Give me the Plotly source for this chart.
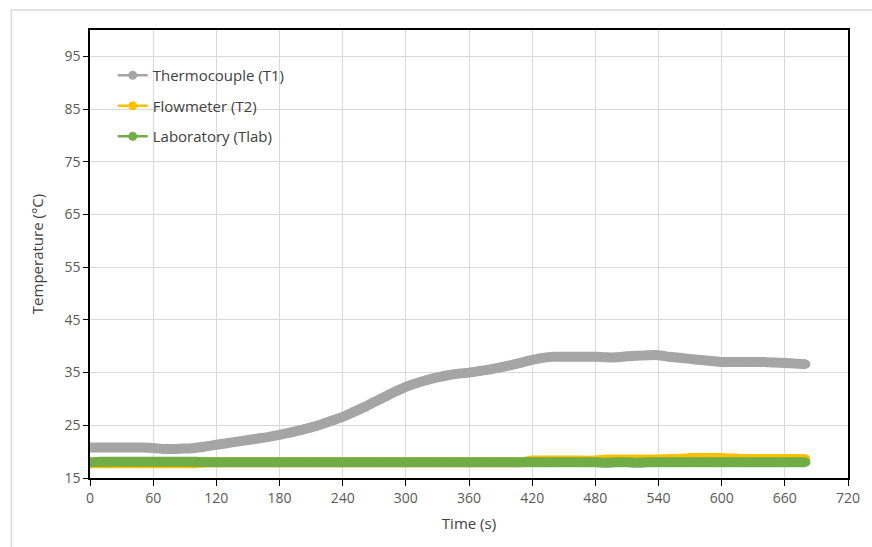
import plotly.graph_objects as go

# ---- data ----
time_s = list(range(0, 690, 10))

t1_thermocouple = [
    20.8, 20.8, 20.8, 20.8, 20.8, 20.8, 20.7, 20.5, 20.5, 20.6,
    20.7, 21.0, 21.3, 21.6, 21.9, 22.2, 22.5, 22.8, 23.2, 23.6,
    24.1, 24.6, 25.2, 25.9, 26.6, 27.5, 28.4, 29.4, 30.4, 31.4,
    32.3, 33.0, 33.6, 34.1, 34.5, 34.8, 35.0, 35.3, 35.6, 36.0,
    36.4, 36.9, 37.4, 37.8, 38.0, 38.0, 38.0, 38.0, 38.0, 37.9,
    37.9, 38.1, 38.2, 38.3, 38.3, 38.0, 37.8, 37.6, 37.4, 37.2,
    37.0, 37.0, 37.0, 37.0, 37.0, 36.9, 36.8, 36.7, 36.6,
]

t2_flowmeter = [
    17.8, 17.8, 17.8, 17.8, 17.8, 17.8, 17.8, 17.8, 17.8, 17.8,
    17.8, 18.0, 18.0, 18.0, 18.0, 18.0, 18.0, 18.0, 18.0, 18.0,
    18.0, 18.0, 18.0, 18.0, 18.0, 18.0, 18.0, 18.0, 18.0, 18.0,
    18.0, 18.0, 18.0, 18.0, 18.0, 18.0, 18.0, 18.0, 18.0, 18.0,
    18.0, 18.0, 18.3, 18.3, 18.3, 18.3, 18.3, 18.3, 18.3, 18.5,
    18.5, 18.5, 18.5, 18.5, 18.5, 18.6, 18.6, 18.8, 18.8, 18.8,
    18.8, 18.7, 18.6, 18.6, 18.6, 18.6, 18.6, 18.6, 18.6,
]

tlab_laboratory = [
    18.0, 18.1, 18.1, 18.1, 18.1, 18.1, 18.1, 18.1, 18.1, 18.1,
    18.1, 18.0, 18.0, 18.0, 18.0, 18.0, 18.0, 18.0, 18.0, 18.0,
    18.0, 18.0, 18.0, 18.0, 18.0, 18.0, 18.0, 18.0, 18.0, 18.0,
    18.0, 18.0, 18.0, 18.0, 18.0, 18.0, 18.0, 18.0, 18.0, 18.0,
    18.0, 18.0, 18.0, 18.0, 18.0, 18.0, 18.0, 18.0, 18.0, 17.9,
    18.0, 18.0, 17.9, 18.0, 18.0, 18.0, 18.0, 18.0, 18.0, 18.0,
    18.0, 18.0, 18.0, 18.0, 18.0, 18.0, 18.0, 18.0, 18.0,
]

series_names = ["Thermocouple (T1)", "Flowmeter (T2)", "Laboratory (Tlab)"]
series_values = [t1_thermocouple, t2_flowmeter, tlab_laboratory]
series_colors = ["#A5A5A5", "#FFC000", "#70AD47"]

x_ticks = list(range(0, 780, 60))
y_ticks = list(range(15, 100, 10))

FONT = "Open Sans"
TEXT = "#595959"

fig = go.Figure()

# data bands
for name, vals, col in zip(series_names, series_values, series_colors):
    fig.add_trace(go.Scatter(
        x=time_s, y=vals, mode="lines+markers", name=name,
        line=dict(color=col, width=10, shape="spline", smoothing=0.6),
        marker=dict(color=col, size=9),
        showlegend=False, hoverinfo="x+y+name",
    ))

# legend entries
for i, (name, col) in enumerate(zip(series_names, series_colors)):
    fig.add_trace(go.Scatter(
        x=[None], y=[None], mode="lines+markers", name=name,
        line=dict(color=col, width=2.5),
        marker=dict(color=col, size=9),
        legendgroup=f"g{i}", showlegend=True,
    ))

fig.update_layout(
    width=872, height=547,
    margin=dict(l=90, r=20, t=30, b=69),
    paper_bgcolor="white", plot_bgcolor="white",
    font=dict(family=FONT, size=14, color=TEXT),
    legend=dict(
        x=0.03, y=0.935, xanchor="left", yanchor="top",
        bgcolor="rgba(0,0,0,0)", tracegroupgap=8,
        font=dict(family=FONT, size=15, color="#404040"),
        itemwidth=30,
    ),
    xaxis=dict(
        range=[0, 720], tickvals=x_ticks, ticktext=[str(v) for v in x_ticks],
        showgrid=True, gridcolor="#D9D9D9", gridwidth=1.3,
        showline=True, linecolor="black", linewidth=1.5, mirror=True,
        ticks="outside", ticklen=6, tickcolor="black", tickwidth=1,
        zeroline=False,
        title=dict(text="Time (s)", font=dict(family=FONT, size=15, color="#404040"), standoff=13),
        tickfont=dict(family=FONT, size=14, color=TEXT),
    ),
    yaxis=dict(
        range=[15, 100], tickvals=y_ticks, ticktext=[str(v) for v in y_ticks],
        showgrid=True, gridcolor="#D9D9D9", gridwidth=1.3,
        showline=True, linecolor="black", linewidth=1.5, mirror=True,
        ticks="outside", ticklen=5, tickcolor="black", tickwidth=1,
        zeroline=False,
        title=dict(text="Temperature (°C)", font=dict(family=FONT, size=15, color="#404040"), standoff=17),
        tickfont=dict(family=FONT, size=14, color=TEXT),
    ),
    shapes=[dict(
        type="rect", xref="paper", yref="paper",
        x0=(11 - 90) / 762, x1=(890 - 90) / 762,
        y0=(478 - 570) / 448, y1=(478 - 10) / 448,
        line=dict(color="#D9D9D9", width=1.5), fillcolor="rgba(0,0,0,0)",
        layer="below",
    )],
)

fig.write_html("out.html")
